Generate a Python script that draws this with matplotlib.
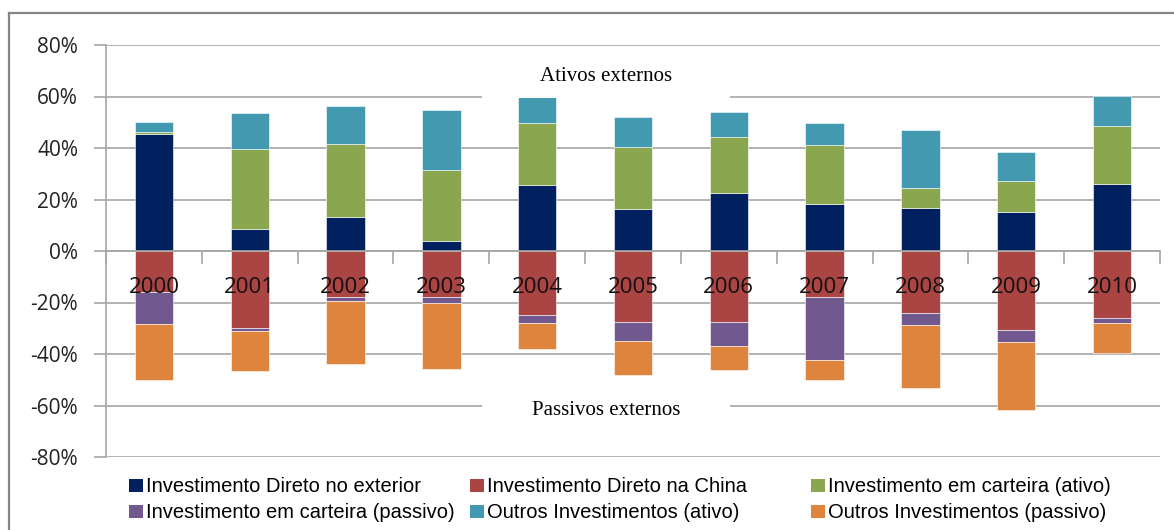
import matplotlib
matplotlib.use('Agg')
import matplotlib.pyplot as plt
from matplotlib.patches import Rectangle, Patch
from matplotlib.lines import Line2D
from matplotlib.ticker import FuncFormatter, FixedLocator
import numpy as np

anos = ['2000', '2001', '2002', '2003', '2004', '2005',
        '2006', '2007', '2008', '2009', '2010']

# ativos externos (% do PIB), empilhados para cima
id_exterior = [45.5, 8.6, 13.1, 4.0, 25.6, 16.2, 22.4, 18.2, 16.6, 15.0, 26.1]
carteira_ativo = [0.9, 31.0, 28.4, 27.5, 24.3, 24.0, 21.7, 22.8, 8.0, 12.0, 22.4]
outros_ativo = [3.7, 14.0, 14.9, 23.1, 10.6, 11.8, 10.0, 8.9, 22.5, 11.4, 11.8]

# passivos externos (% do PIB), empilhados para baixo
id_china = [-15.8, -30.0, -18.0, -18.0, -25.0, -27.5, -27.5, -18.0, -24.0, -30.5, -25.9]
carteira_passivo = [-12.6, -0.9, -1.5, -2.0, -2.9, -7.4, -9.3, -24.4, -4.9, -4.9, -2.0]
outros_passivo = [-21.8, -15.8, -24.2, -25.7, -10.2, -13.3, -9.5, -7.8, -24.3, -26.2, -11.9]

nomes = ['Investimento Direto no exterior', 'Investimento Direto na China',
         'Investimento em carteira (ativo)', 'Investimento em carteira (passivo)',
         'Outros Investimentos (ativo)', 'Outros Investimentos (passivo)']
cores = {'navy': '#00205f', 'red': '#aa4543', 'green': '#8aa64f',
         'purple': '#71588f', 'teal': '#4399b0', 'orange': '#df843d'}

fonte = ['Open Sans', 'DejaVu Sans']

fig = plt.figure(figsize=(11.74, 5.30), dpi=100)
ax = fig.add_axes([106 / 1174, 1 - 457 / 530, 1054 / 1174, 412 / 530])

x = np.arange(len(anos))
w = 0.4
grid_c = '#a6a6a6'

pos_series = [(id_exterior, 'navy'), (carteira_ativo, 'green'), (outros_ativo, 'teal')]
neg_series = [(id_china, 'red'), (carteira_passivo, 'purple'), (outros_passivo, 'orange')]
for series in (pos_series, neg_series):
    base = np.zeros(len(anos))
    for vals, c in series:
        v = np.array(vals)
        ax.bar(x, v, w, bottom=base, color=cores[c], edgecolor='#ffffff',
               linewidth=0.4, zorder=3)
        base += v

ax.set_xlim(-0.5, len(anos) - 0.5)
ax.set_ylim(-80, 80)
ax.set_yticks(np.arange(-80, 81, 20))
ax.yaxis.set_major_formatter(FuncFormatter(lambda v, p: '%d%%' % v))
ax.yaxis.grid(True, color=grid_c, linewidth=1.2, zorder=0)
ax.set_axisbelow(True)

for s in ('top', 'right'):
    ax.spines[s].set_visible(False)
ax.spines['left'].set_color(grid_c)
ax.spines['left'].set_linewidth(1.2)
ax.spines['bottom'].set_position(('data', 0))
ax.spines['bottom'].set_color(grid_c)
ax.spines['bottom'].set_linewidth(1.2)
ax.spines['bottom'].set_zorder(4)

# marcas entre categorias no eixo zero; rotulos dos anos desenhados sobre as barras
ax.set_xticks(x)
ax.set_xticklabels([])
ax.xaxis.set_minor_locator(FixedLocator(np.arange(-0.5, len(anos), 1.0)))
ax.tick_params(axis='x', which='major', length=0)
ax.tick_params(axis='x', which='minor', length=9, width=1.2, color=grid_c,
               direction='out')
for xi, ano in zip(x, anos):
    ax.text(xi, -14.0, ano, ha='center', va='center', fontsize=16,
            color='#111111', family=fonte, zorder=6)

ax.tick_params(axis='y', length=9, width=1.2, color=grid_c, pad=11,
               labelsize=15, labelcolor='#222222')
for lab in ax.get_yticklabels():
    lab.set_family(fonte)

# caixas de texto sobre as linhas de grade
ax.add_patch(Rectangle((3.425, 59.5), 2.59, 18, facecolor='white',
                       edgecolor='none', zorder=5))
ax.add_patch(Rectangle((3.425, -72), 2.59, 20, facecolor='white',
                       edgecolor='none', zorder=5))
ax.text(4.72, 67.8, 'Ativos externos', ha='center', va='center', fontsize=15,
        family=['Liberation Serif', 'DejaVu Serif'], zorder=6)
ax.text(4.72, -62.0, 'Passivos externos', ha='center', va='center', fontsize=15,
        family=['Liberation Serif', 'DejaVu Serif'], zorder=6)

# legenda em duas linhas e tres colunas
ordem = ['navy', 'red', 'green', 'purple', 'teal', 'orange']
col_x = [129, 470, 811]
row_y = [487, 513]
for i, (nome, c) in enumerate(zip(nomes, ordem)):
    r, k = divmod(i, 3)
    fig.legend(handles=[Patch(facecolor=cores[c], edgecolor='none')], labels=[nome],
               loc='center left', bbox_to_anchor=(col_x[k] / 1174, 1 - row_y[r] / 530),
               frameon=False, borderpad=0, borderaxespad=0,
               handlelength=0.68, handleheight=0.68, handletextpad=0.15,
               prop={'family': ['Liberation Sans', 'DejaVu Sans'], 'size': 14.5})

# moldura externa do grafico
fig.add_artist(Line2D([9 / 1174, 9 / 1174], [0, 1 - 12.5 / 530],
                      color='#868686', linewidth=1.6))
fig.add_artist(Line2D([9 / 1174, 1], [1 - 12.5 / 530, 1 - 12.5 / 530],
                      color='#868686', linewidth=1.6))

fig.savefig('out.png', dpi=100, facecolor='white')
